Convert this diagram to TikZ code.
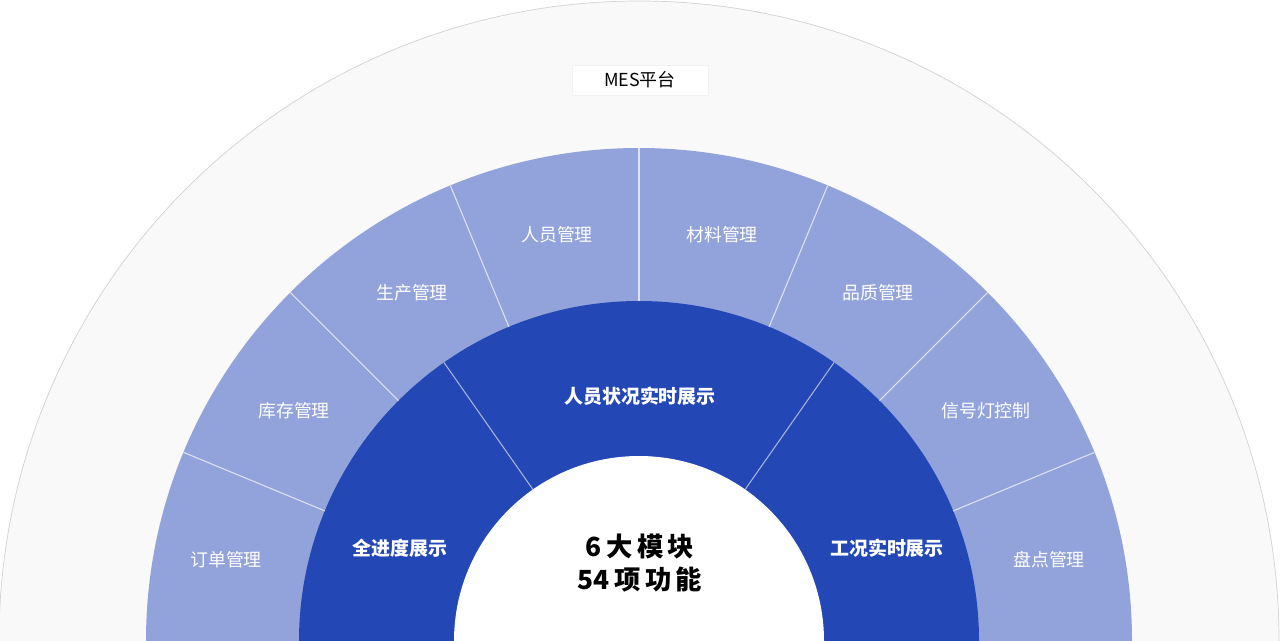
\documentclass[tikz,border=0pt]{standalone}
\usepackage{fontspec}
\setmainfont{Noto Sans CJK SC}
\usetikzlibrary{calc}
\begin{document}
\begin{tikzpicture}[x=0.02cm,y=-0.02cm,
  lab/.style={text=white,font=\fontsize{10.2}{12}\selectfont},
  dlab/.style={text=white,font=\fontsize{10.8}{13}\selectfont\bfseries}]
\useasboundingbox (0,0) rectangle (1280,640);
\clip (0,0) rectangle (1280,640);
\definecolor{outerc}{HTML}{F9F9F9}
\definecolor{midc}{HTML}{91A3DA}
\definecolor{darkc}{HTML}{2347B5}
\coordinate (O) at (639,641);
\fill[outerc,draw=black!18] (O) circle[radius=640];
\fill[midc] (O) circle[radius=493];
\fill[darkc] (O) circle[radius=340];
\fill[white] (O) circle[radius=185];
\foreach \a in {22.5,45,67.5,90,112.5,135,157.5}
  \draw[white!70!midc,line width=0.6pt] ($(O)+(-\a:340)$) -- ($(O)+(-\a:493)$);
\foreach \a in {55,125}
  \draw[white!60!darkc,line width=0.6pt] ($(O)+(-\a:185)$) -- ($(O)+(-\a:340)$);
\node[fill=white,draw=black!5,minimum width=2.72cm,minimum height=0.6cm,font=\fontsize{10.2}{12}\selectfont] (mes) at (640,80) {MES平台};
\node[lab] (n1) at (226,560) {订单管理};
\node[lab] (n2) at (294,411) {库存管理};
\node[lab] (n3) at (412,293) {生产管理};
\node[lab] (n4) at (557,235) {人员管理};
\node[lab] (n5) at (722,235) {材料管理};
\node[lab] (n6) at (878,293) {品质管理};
\node[lab] (n7) at (986,411) {信号灯控制};
\node[lab] (n8) at (1049,560) {盘点管理};
\node[dlab] (d1) at (400,548) {全进度展示};
\node[dlab] (d2) at (640,396) {人员状况实时展示};
\node[dlab] (d3) at (887,548) {工况实时展示};
\node[font=\fontsize{15}{19}\selectfont\bfseries,align=center] (c) at (640,563) {6\,大\,模\,块\\54\,项\,功\,能};
\end{tikzpicture}
\end{document}
